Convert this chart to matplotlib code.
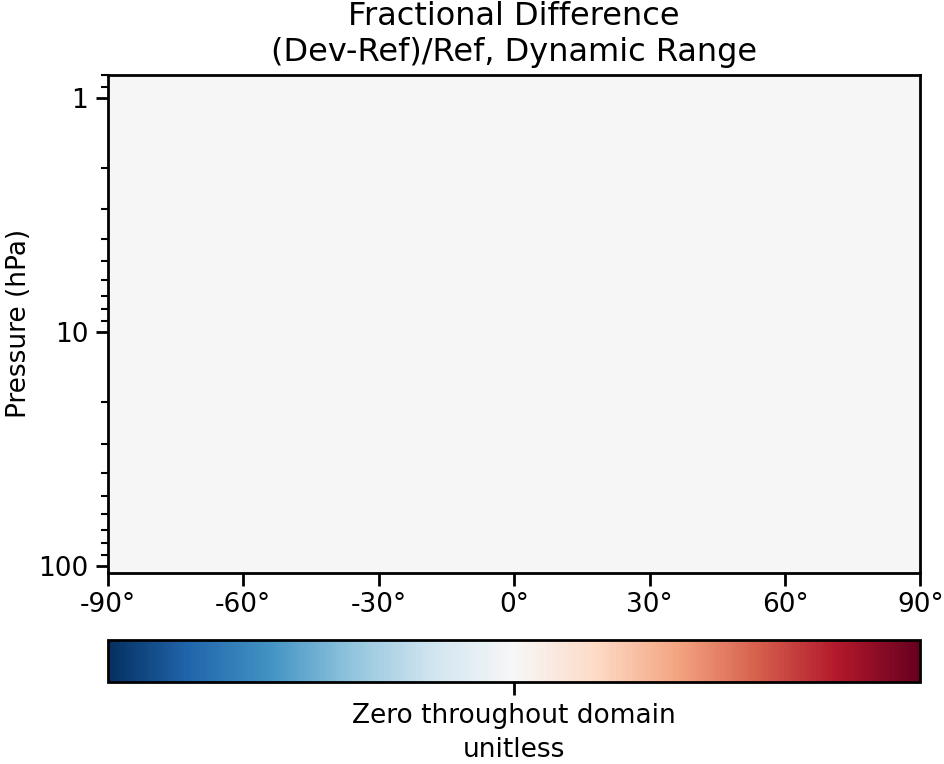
import matplotlib
matplotlib.use('Agg')
import matplotlib.pyplot as plt
from matplotlib.ticker import FixedLocator, FuncFormatter
import numpy as np

# grid edges of the zonal mean field
lat_edges = [-90, -60, -30, 0, 30, 60, 90]
pres_edges = [0.8, 1, 3, 10, 30, 100, 107]

# fractional difference is zero everywhere
frac_diff = [
    [0, 0, 0, 0, 0, 0],
    [0, 0, 0, 0, 0, 0],
    [0, 0, 0, 0, 0, 0],
    [0, 0, 0, 0, 0, 0],
    [0, 0, 0, 0, 0, 0],
    [0, 0, 0, 0, 0, 0],
]

lat_ticks = [-90, -60, -30, 0, 30, 60, 90]
pres_ticks = [1, 10, 100]

fig = plt.figure(figsize=(9.45, 7.64), dpi=100)
ax = fig.add_axes([0.114, 0.25, 0.86, 0.652])
cax = fig.add_axes([0.114, 0.107, 0.86, 0.055])

mesh = ax.pcolormesh(lat_edges, pres_edges, np.array(frac_diff), cmap='RdBu_r',
                     vmin=-1, vmax=1, shading='flat')
ax.set_yscale('log')
ax.set_ylim(107, 0.8)
ax.set_xlim(-90, 90)
ax.set_xticks(lat_ticks)
ax.set_xticklabels(['{}°'.format(t) for t in lat_ticks])
ax.yaxis.set_major_locator(FixedLocator(pres_ticks))
ax.yaxis.set_major_formatter(FuncFormatter(lambda v, p: '{:g}'.format(v)))
ax.tick_params(labelsize=19, width=2, length=9, pad=5)
ax.tick_params(which='minor', width=1.5, length=5)
for s in ax.spines.values():
    s.set_linewidth(2)
ax.set_ylabel('Pressure (hPa)', fontsize=19, labelpad=4)
ax.set_title('Fractional Difference\n(Dev-Ref)/Ref, Dynamic Range', fontsize=23,
             pad=10)

cb = fig.colorbar(mesh, cax=cax, orientation='horizontal')
cb.set_ticks([0])
cb.set_ticklabels(['Zero throughout domain'])
cb.ax.tick_params(labelsize=19, width=2, length=9, pad=6)
cb.outline.set_linewidth(2)
cb.set_label('unitless', fontsize=19, labelpad=6)

fig.savefig('out.png', dpi=100)
